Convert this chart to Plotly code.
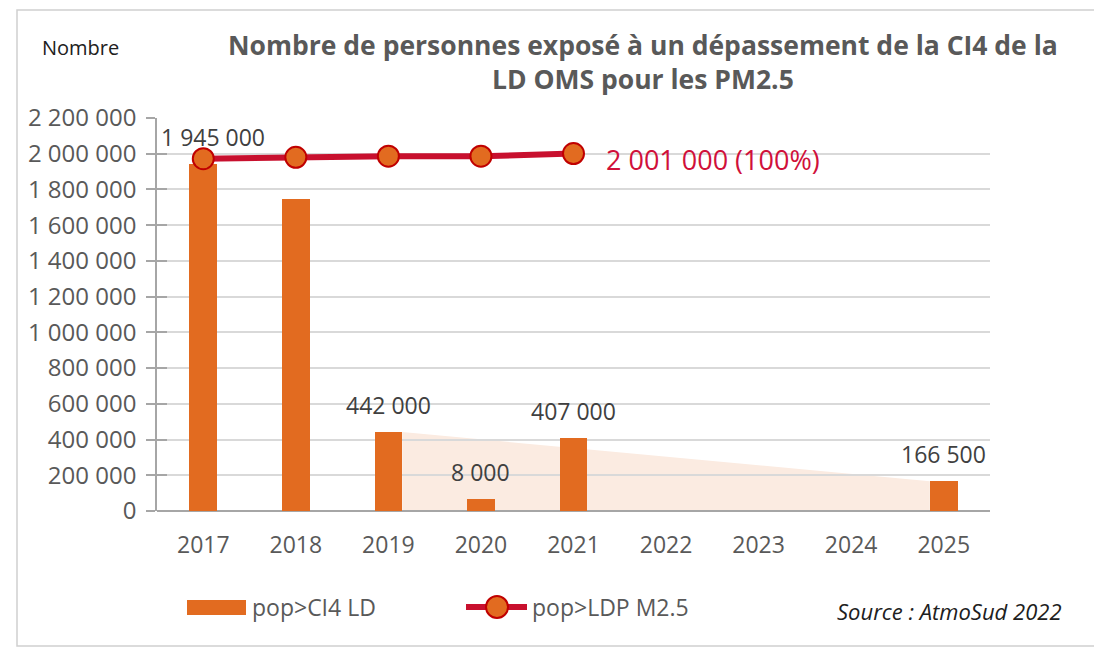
import plotly.graph_objects as go

# ---- data ----
years = ["2017", "2018", "2019", "2020", "2021", "2022", "2023", "2024", "2025"]
bar_years = ["2017", "2018", "2019", "2020", "2021", "2025"]
bar_values = [1945000, 1745000, 442000, 70000, 407000, 166500]
bar_labels = ["1 945 000", "", "442 000", "8 000", "407 000", "166 500"]
line_years = ["2017", "2018", "2019", "2020", "2021"]
line_values = [1972000, 1980000, 1986000, 1986000, 2001000]
y_ticks = [0, 200000, 400000, 600000, 800000, 1000000, 1200000, 1400000,
           1600000, 1800000, 2000000, 2200000]
y_ticklabels = ["0", "200 000", "400 000", "600 000", "800 000", "1 000 000",
                "1 200 000", "1 400 000", "1 600 000", "1 800 000", "2 000 000", "2 200 000"]
trend_years = ["2019", "2025"]
trend_values = [442000, 166500]

# ---- style ----
OFF = 8  # page body margin
W, H = 1102 - OFF, 648 - OFF
L, R, T, B = 157, 990, 118, 511  # plot area in screen px
ORANGE = "#E26B20"
RED = "#C8102E"
GRAY = "#595959"
AXIS = "#A6A6A6"
FONT = "Open Sans"
BAR_W = 0.30
YR = [0, 2200000]

def px(x):
    return (x - L) / (R - L)

def py(y):
    return (B - y) / (B - T)

idx = {y: i for i, y in enumerate(years)}
bx = [idx[y] for y in bar_years]
lx = [idx[y] for y in line_years]
tx = [idx[trend_years[0]] + BAR_W / 2, idx[trend_years[1]] - BAR_W / 2]

fig = go.Figure()

fig.add_trace(go.Bar(
    x=bx, y=bar_values, width=BAR_W, marker=dict(color=ORANGE, line=dict(width=0)),
    name="pop>CI4 LD", showlegend=False))

fig.add_trace(go.Scatter(
    x=lx, y=line_values, mode="lines+markers", name="pop>LDP M2.5",
    line=dict(color=RED, width=6),
    marker=dict(size=21, color=ORANGE, line=dict(color="#C00000", width=2)),
    showlegend=False))

# empty trace on the overlay axis (used for the inner half of the crossing ticks)
fig.add_trace(go.Scatter(x=[], y=[], yaxis="y2", showlegend=False, hoverinfo="skip"))

annotations = []
for x, v, t in zip(bx, bar_values, bar_labels):
    if not t:
        continue
    dx = 0.1 if x == 0 else 0
    annotations.append(dict(x=x + dx, y=v, xref="x", yref="y", text=t, showarrow=False,
                            yanchor="middle", yshift=27,
                            font=dict(family=FONT, size=23, color="#404040")))

annotations.append(dict(x=lx[-1], y=line_values[-1], xref="x", yref="y",
                        text="2 001 000 (100%)", showarrow=False, xanchor="left",
                        xshift=30, yshift=-6, font=dict(family=FONT, size=27, color="#D0103A")))

annotations.append(dict(x=px(643), y=py(62), xref="paper", yref="paper",
                        xanchor="center", yanchor="middle",
                        text="Nombre de personnes exposé à un dépassement de la CI4 de la<br>LD OMS pour les PM2.5",
                        showarrow=False, align="center",
                        font=dict(family=FONT, size=26.5, color=GRAY, weight="bold")))
annotations.append(dict(x=px(40), y=py(47), xref="paper", yref="paper", text="Nombre",
                        showarrow=False, xanchor="left", yanchor="middle",
                        font=dict(family=FONT, size=20, color="#202020")))
annotations.append(dict(x=px(1064), y=py(611), xref="paper", yref="paper",
                        text="<i>Source : AtmoSud 2022</i>", showarrow=False,
                        xanchor="right", yanchor="middle",
                        font=dict(family=FONT, size=22, color="#202020")))
# legend texts
annotations.append(dict(x=px(250), y=py(607), xref="paper", yref="paper", text="pop>CI4 LD",
                        showarrow=False, xanchor="left", yanchor="middle",
                        font=dict(family=FONT, size=23, color=GRAY)))
annotations.append(dict(x=px(530), y=py(607), xref="paper", yref="paper", text="pop>LDP M2.5",
                        showarrow=False, xanchor="left", yanchor="middle",
                        font=dict(family=FONT, size=23, color=GRAY)))

shapes = [
    # shaded trend area (below grid)
    dict(type="path", xref="x", yref="y", layer="below",
         path=f"M {tx[0]},0 L {tx[0]},{trend_values[0]} L {tx[1]},{trend_values[1]} L {tx[1]},0 Z",
         line=dict(width=0), fillcolor="#FBEBE1"),
    # chart border
    dict(type="rect", xref="paper", yref="paper", x0=px(17), x1=px(1097), y0=py(646), y1=py(10),
         line=dict(color="#D0D0D0", width=1.5), fillcolor="rgba(0,0,0,0)", layer="below"),
    # legend keys
    dict(type="rect", xref="paper", yref="paper", x0=px(187), x1=px(246), y0=py(615), y1=py(600),
         line=dict(width=0), fillcolor=ORANGE),
    dict(type="line", xref="paper", yref="paper", x0=px(466), x1=px(527), y0=py(607), y1=py(607),
         line=dict(color=RED, width=6)),
    dict(type="circle", xref="paper", yref="paper", x0=px(486), x1=px(508), y0=py(618), y1=py(596),
         line=dict(color="#C00000", width=2), fillcolor=ORANGE),
]

fig.update_layout(
    width=W, height=H,
    margin=dict(l=L - OFF, r=1102 - R, t=T - OFF, b=648 - B, pad=0),
    paper_bgcolor="white", plot_bgcolor="white",
    font=dict(family=FONT, color=GRAY),
    showlegend=False, bargap=0,
    annotations=annotations, shapes=shapes,
    xaxis=dict(range=[-0.5, 8.5], tickvals=list(range(len(years))), ticktext=years,
               showgrid=False, zeroline=False, showline=False, ticks="",
               tickfont=dict(family=FONT, size=23, color=GRAY), ticklabelstandoff=18),
    yaxis=dict(range=YR, tickvals=y_ticks, ticktext=y_ticklabels,
               showgrid=True, gridcolor="#D9D9D9", gridwidth=1.5,
               zeroline=True, zerolinecolor=AXIS, zerolinewidth=1.5,
               showline=True, linecolor=AXIS, linewidth=1.5,
               ticks="outside", ticklen=9, tickcolor=AXIS, tickwidth=1.5,
               ticklabelstandoff=5,
               tickfont=dict(family=FONT, size=24, color=GRAY)),
    yaxis2=dict(range=YR, overlaying="y", side="left", tickvals=y_ticks,
                showgrid=False, zeroline=False, showline=False, showticklabels=False,
                ticks="inside", ticklen=10, tickcolor=AXIS, tickwidth=1.5),
)

fig.write_html("out.html")
